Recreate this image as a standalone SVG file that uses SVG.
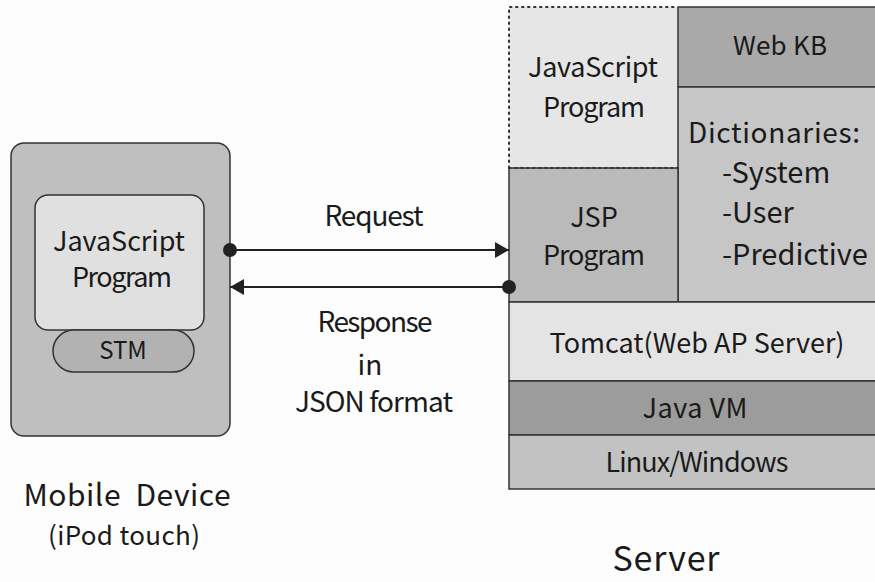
<svg xmlns="http://www.w3.org/2000/svg" width="875" height="582" viewBox="0 0 875 582">
<style>
  text { font-family: "Noto Sans CJK JP", "DejaVu Sans", sans-serif; fill: #1a1a1a; }
  .c { text-anchor: middle; }
  .b { stroke: #333; stroke-width: 1.5; }
  .conn { stroke: #222; stroke-width: 2; fill: none; }
</style>
<defs>
  <marker id="arr" viewBox="0 0 14 16" refX="14" refY="8" markerWidth="14" markerHeight="16" markerUnits="userSpaceOnUse" orient="auto">
    <path d="M0,0 L14,8 L0,16 Z" fill="#222"/>
  </marker>
</defs>
<rect width="875" height="582" fill="#fdfdfd"/>

<g id="mobile-device">
  <rect x="11" y="143" width="219" height="293" rx="13" fill="#bfbfbf" class="b"/>
</g>
<g id="mobile-js">
  <rect x="35" y="195" width="169" height="135" rx="13" fill="#e0e0e0" class="b"/>
  <text x="119" y="251" class="c" font-size="27" textLength="132" lengthAdjust="spacing">JavaScript</text>
  <text x="122" y="287" class="c" font-size="27" textLength="100" lengthAdjust="spacing">Program</text>
</g>
<g id="stm">
  <rect x="53" y="330" width="141" height="42" rx="21" fill="#b2b2b2" class="b"/>
  <text x="123" y="359" class="c" font-size="24">STM</text>
</g>

<g id="server-js">
  <rect x="509" y="7" width="169" height="161" fill="#e6e6e6"/>
  <path d="M509,168 V7 H678" fill="none" stroke="#333" stroke-width="2" stroke-dasharray="1.5 4.5" stroke-linecap="round"/>
  <text x="593" y="77" class="c" font-size="27" textLength="130" lengthAdjust="spacing">JavaScript</text>
  <text x="594" y="117" class="c" font-size="27" textLength="102" lengthAdjust="spacing">Program</text>
</g>
<g id="web-kb">
  <rect x="678" y="7" width="200" height="80" fill="#a9a9a9" class="b"/>
  <text x="780" y="55" class="c" font-size="26" textLength="94" lengthAdjust="spacing">Web KB</text>
</g>
<g id="dictionaries">
  <rect x="678" y="87" width="200" height="215" fill="#c6c6c6" class="b"/>
  <text x="774" y="143" class="c" font-size="28" textLength="172" lengthAdjust="spacing">Dictionaries:</text>
  <text x="722" y="183" font-size="29">-System</text>
  <text x="722" y="223" font-size="29">-User</text>
  <text x="722" y="265" font-size="29">-Predictive</text>
</g>
<g id="jsp">
  <rect x="509" y="168" width="169" height="134" fill="#bababa" class="b"/>
  <path d="M509,168 H678" fill="none" stroke="#333" stroke-width="2" stroke-dasharray="1.5 4.5" stroke-linecap="round"/>
  <text x="594" y="227" class="c" font-size="27">JSP</text>
  <text x="594" y="265" class="c" font-size="27" textLength="102" lengthAdjust="spacing">Program</text>
</g>
<g id="tomcat">
  <rect x="509" y="302" width="369" height="79" fill="#e4e4e4" class="b"/>
  <text x="697" y="353" class="c" font-size="27" textLength="295" lengthAdjust="spacing">Tomcat(Web AP Server)</text>
</g>
<g id="javavm">
  <rect x="509" y="381" width="369" height="54" fill="#9c9c9c" class="b"/>
  <text x="695" y="418" class="c" font-size="27" textLength="105" lengthAdjust="spacing">Java VM</text>
</g>
<g id="os">
  <rect x="509" y="435" width="369" height="54" fill="#c2c2c2" class="b"/>
  <text x="697" y="472" class="c" font-size="27" textLength="183" lengthAdjust="spacing">Linux/Windows</text>
</g>

<g id="connectors">
  <line x1="230" y1="250" x2="509" y2="250" class="conn" marker-end="url(#arr)"/>
  <circle cx="230" cy="250" r="7" fill="#222"/>
  <line x1="509" y1="287" x2="230" y2="287" class="conn" marker-end="url(#arr)"/>
  <circle cx="509" cy="287" r="7" fill="#222"/>
</g>

<g id="labels">
  <text x="374" y="226" class="c" font-size="28" textLength="99" lengthAdjust="spacing">Request</text>
  <text x="375" y="332" class="c" font-size="28" textLength="115" lengthAdjust="spacing">Response</text>
  <text x="370" y="375" class="c" font-size="28">in</text>
  <text x="374" y="412" class="c" font-size="28" textLength="158" lengthAdjust="spacing">JSON format</text>
  <text x="127" y="506" class="c" font-size="30" textLength="207" lengthAdjust="spacing" xml:space="preserve">Mobile  Device</text>
  <text x="124" y="545" class="c" font-size="26" textLength="152" lengthAdjust="spacing">(iPod touch)</text>
  <text x="666" y="571" class="c" font-size="34" textLength="107" lengthAdjust="spacing">Server</text>
</g>
</svg>
